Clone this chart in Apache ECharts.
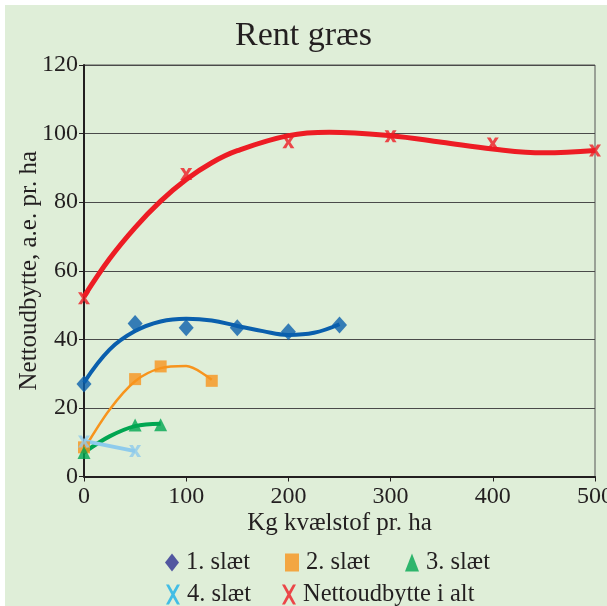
<!DOCTYPE html>
<html>
<head>
<meta charset="utf-8">
<script src="https://cdn.jsdelivr.net/npm/echarts@6/dist/echarts.min.js"></script>
<style>
html,body{margin:0;padding:0;background:#ffffff;}
#chart{width:607px;height:606px;}
</style>
</head>
<body>
<div id="chart"></div>
<script>
// ---- data ----
var xTicks = [0, 100, 200, 300, 400, 500];
var yTicks = [0, 20, 40, 60, 80, 100, 120];

var slaet1X = [0, 50, 100, 150, 200, 250];
var slaet1Y = [27, 44.6, 43.4, 43.4, 42.2, 44.2];
var slaet2X = [0, 50, 75, 125];
var slaet2Y = [8.5, 28.4, 32.1, 27.9];
var slaet3X = [0, 50, 75];
var slaet3Y = [7, 15, 15.1];
var slaet4X = [0, 50];
var slaet4Y = [10.2, 7.4];
var nettoX = [0, 100, 200, 300, 400, 500];
var nettoY = [52, 88.2, 97.5, 99.2, 97.1, 95.1];

// trend lines
var trend1X = [0, 25, 50, 75, 100, 125, 150, 175, 200, 225, 250];
var trend1Y = [27.4, 37, 42.4, 45.2, 46, 45.5, 43.9, 42.4, 41.3, 41.9, 44.4];
var trend2X = [0, 25, 50, 75, 100, 125];
var trend2Y = [8, 19.5, 27.8, 31.6, 32.2, 28.2];
var trend3X = [0, 25, 50, 75];
var trend3Y = [7, 11.7, 14.7, 15.4];
var trend4X = [0, 50];
var trend4Y = [10.4, 7.4];
var trendNX = [0, 25, 50, 75, 100, 125, 150, 200, 240, 300, 350, 400, 450, 500];
var trendNY = [52.5, 63.5, 72.6, 80.3, 86.6, 91.5, 95, 99.4, 100.4, 99.4, 97.5, 95.5, 94.4, 95.1];

var names = ['1. slæt', '2. slæt', '3. slæt', '4. slæt', 'Nettoudbytte i alt'];

function pairs(xs, ys) { return xs.map(function (x, i) { return [x, ys[i]]; }); }

var FONT = '"Liberation Serif", "Times New Roman", serif';
var xPath = 'path://M0,0 L3,0 L7,7 L11,0 L14,0 L8.6,10 L14,20 L11,20 L7,13 L3,20 L0,20 L5.4,10 Z';
var xPlot = 'path://M0,0 L3.8,0 L6,3.8 L8.2,0 L12,0 L8,6 L12,12 L8.2,12 L6,8.2 L3.8,12 L0,12 L4,6 Z';

var C1 = '#0a5fad', C2 = '#f7941d', C3 = '#00a651', C4 = '#8ecbec', CN = '#ed1c24';

function trend(name, xs, ys, color, w, sm) {
  return { name: name + ' trend', type: 'line', data: pairs(xs, ys), smooth: sm, showSymbol: false,
    symbol: 'none', lineStyle: { color: color, width: w }, itemStyle: { color: color }, z: 3, silent: true };
}
function pts(name, xs, ys, symbol, size, color) {
  return { name: name, type: 'scatter', data: pairs(xs, ys), symbol: symbol, symbolSize: size,
    itemStyle: { color: color }, z: 4 };
}

var chart = echarts.init(document.getElementById('chart'), null, { renderer: 'canvas' });
chart.setOption({
  animation: false,
  backgroundColor: '#ffffff',
  graphic: [{ type: 'rect', left: 5, top: 5, shape: { width: 602, height: 601 }, style: { fill: '#dfeed8' }, z: -10 }],
  title: {
    text: 'Rent græs', left: 'center', top: 14,
    textStyle: { fontFamily: FONT, fontSize: 34, fontWeight: 'normal', color: '#231f20' }
  },
  legend: [
    {
      data: [
        { name: names[0], icon: 'diamond', itemStyle: { color: '#2e3192' } },
        { name: names[1], icon: 'rect', itemStyle: { color: '#f7941d' } },
        { name: names[2], icon: 'triangle', itemStyle: { color: '#00a651' } }
      ],
      left: 160, top: 545, itemWidth: 14, itemHeight: 18, itemGap: 35,
      textStyle: { fontFamily: FONT, fontSize: 24.5, color: '#231f20', padding: [0, 0, 0, 2] }
    },
    {
      data: [
        { name: names[3], icon: xPath, itemStyle: { color: '#1ab0e8' } },
        { name: names[4], icon: xPath, itemStyle: { color: '#ed1c24' } }
      ],
      left: 161, top: 577, itemWidth: 14, itemHeight: 20, itemGap: 31,
      textStyle: { fontFamily: FONT, fontSize: 24.5, color: '#231f20', padding: [0, 0, 0, 2] }
    }
  ],
  grid: { left: 84, right: 12, top: 65, bottom: 129.5, outerBoundsMode: 'none', containLabel: false,
    show: true, borderColor: '#555', borderWidth: 1, backgroundColor: 'transparent' },
  xAxis: {
    type: 'value', min: xTicks[0], max: xTicks[xTicks.length - 1], interval: 100,
    name: 'Kg kvælstof pr. ha', nameLocation: 'middle', nameGap: 34, nameMoveOverlap: false,
    nameTextStyle: { fontFamily: FONT, fontSize: 25, color: '#231f20' },
    axisLine: { show: true, onZero: false, lineStyle: { color: '#231f20', width: 2 } },
    axisTick: { show: true, inside: false, length: 5, lineStyle: { color: '#231f20', width: 1 } },
    axisLabel: { fontFamily: FONT, fontSize: 24, color: '#231f20', margin: 8 },
    splitLine: { show: false }
  },
  yAxis: {
    type: 'value', min: yTicks[0], max: yTicks[yTicks.length - 1], interval: 20,
    name: 'Nettoudbytte, a.e. pr. ha', nameLocation: 'middle', nameGap: 42, nameMoveOverlap: false,
    nameTextStyle: { fontFamily: FONT, fontSize: 25, color: '#231f20' },
    axisLine: { show: true, lineStyle: { color: '#231f20', width: 2 } },
    axisTick: { show: true, inside: false, length: 5, lineStyle: { color: '#231f20', width: 1 } },
    axisLabel: { fontFamily: FONT, fontSize: 24, color: '#231f20', margin: 6 },
    splitLine: { show: true, lineStyle: { color: '#4a4a4a', width: 1 } }
  },
  series: [
    pts(names[0], slaet1X, slaet1Y, 'diamond', [15, 17], C1),
    pts(names[1], slaet2X, slaet2Y, 'rect', 12, C2),
    pts(names[2], slaet3X, slaet3Y, 'triangle', 13, C3),
    pts(names[3], slaet4X, slaet4Y, xPlot, 12, C4),
    pts(names[4], nettoX, nettoY, xPlot, 12, CN),
    trend(names[0], trend1X, trend1Y, C1, 4, 0.4),
    trend(names[1], trend2X, trend2Y, C2, 2.5, 0.3),
    trend(names[2], trend3X, trend3Y, C3, 4, 0.35),
    trend(names[3], trend4X, trend4Y, C4, 4, 0),
    trend(names[4], trendNX, trendNY, CN, 5, 0.4)
  ]
});
</script>
</body>
</html>
